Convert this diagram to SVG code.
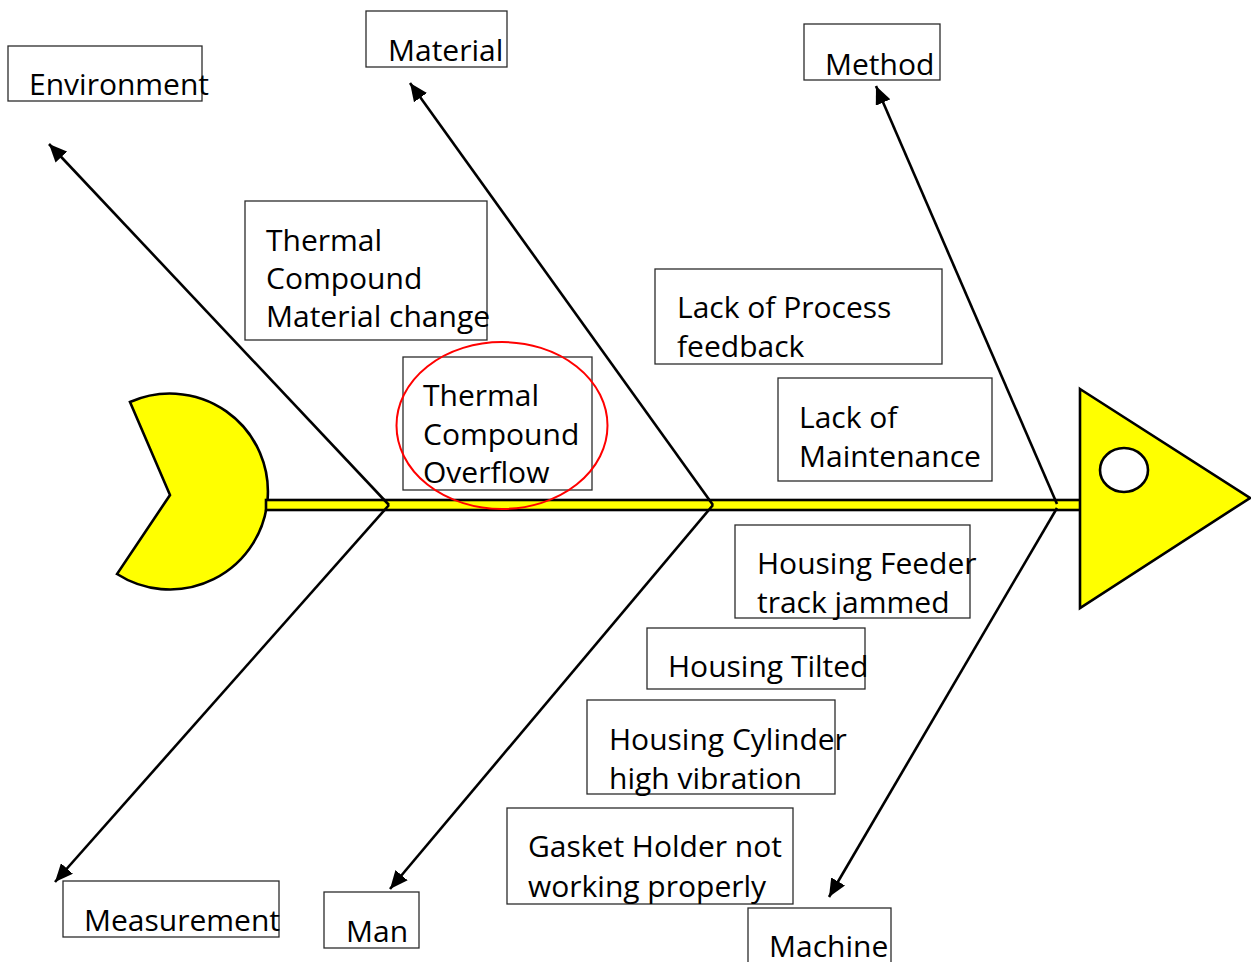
<svg xmlns="http://www.w3.org/2000/svg" width="1251" height="962" viewBox="0 0 1251 962">
  <style>
    .box { fill: #ffffff; stroke: #2b2b2b; stroke-width: 1.3; }
    .lbl { font-family: "Open Sans", "Noto Sans", "Liberation Sans", sans-serif; font-size: 30px; fill: #000000; }
    .bone { stroke: #000000; stroke-width: 2.6; fill: none; marker-end: url(#arrow); }
    .body { fill: #ffff00; stroke: #000000; stroke-width: 2.6; stroke-linejoin: miter; }
  </style>
  <defs>
    <marker id="arrow" markerUnits="userSpaceOnUse" markerWidth="20" markerHeight="16" refX="18" refY="8" orient="auto">
      <path d="M0,0 L18,8 L0,16 Z" fill="#000000"/>
    </marker>
  </defs>

  <rect width="1251" height="962" fill="#ffffff"/>

  <!-- fish skeleton: tail, spine, head -->
  <g id="fish">
    <path id="tail" class="body" d="M130,402 L170,495 L117,574 A98,98 0 1 0 130,402 Z"/>
    <rect id="spine" x="266" y="500" width="815" height="10" class="body" stroke-width="2.4"/>
    <path id="head" class="body" d="M1080,389 L1250,498 L1080,608 Z"/>
    <ellipse id="eye" cx="1124" cy="470" rx="24" ry="22" fill="#ffffff" stroke="#000000" stroke-width="2.6"/>
  </g>

  <!-- bones from the spine out to the category labels -->
  <g id="connectors">
    <line class="bone" x1="389" y1="505" x2="49" y2="144"/>
    <line class="bone" x1="389" y1="505" x2="55" y2="882"/>
    <line class="bone" x1="713" y1="505" x2="410" y2="83"/>
    <line class="bone" x1="713" y1="505" x2="390" y2="889"/>
    <line class="bone" x1="1057" y1="504" x2="876" y2="86"/>
    <line class="bone" x1="1057" y1="508" x2="829" y2="897"/>
  </g>

  <!-- category labels -->
  <g id="environment">
    <rect class="box" x="8" y="46" width="194" height="55"/>
    <text class="lbl" x="29" y="95">Environment</text>
  </g>
  <g id="material">
    <rect class="box" x="366" y="11" width="141" height="56"/>
    <text class="lbl" x="388" y="61">Material</text>
  </g>
  <g id="method">
    <rect class="box" x="804" y="24" width="136" height="56"/>
    <text class="lbl" x="825" y="75">Method</text>
  </g>
  <g id="measurement">
    <rect class="box" x="63" y="881" width="216" height="56"/>
    <text class="lbl" x="84" y="931">Measurement</text>
  </g>
  <g id="man">
    <rect class="box" x="324" y="892" width="95" height="56"/>
    <text class="lbl" x="346" y="942">Man</text>
  </g>
  <g id="machine">
    <rect class="box" x="748" y="908" width="143" height="60"/>
    <text class="lbl" x="769" y="957">Machine</text>
  </g>

  <!-- causes -->
  <g id="cause-material-change">
    <rect class="box" x="245" y="201" width="242" height="139"/>
    <text class="lbl" x="266" y="251">Thermal</text>
    <text class="lbl" x="266" y="289">Compound</text>
    <text class="lbl" x="266" y="327">Material change</text>
  </g>
  <g id="cause-overflow">
    <rect class="box" x="403" y="357" width="189" height="133"/>
    <text class="lbl" x="423" y="406">Thermal</text>
    <text class="lbl" x="423" y="445">Compound</text>
    <text class="lbl" x="423" y="483">Overflow</text>
    <ellipse cx="502" cy="425.5" rx="105.5" ry="83.5" fill="none" stroke="#ff0000" stroke-width="2"/>
  </g>
  <g id="cause-process-feedback">
    <rect class="box" x="655" y="269" width="287" height="95"/>
    <text class="lbl" x="677" y="318">Lack of Process</text>
    <text class="lbl" x="677" y="357">feedback</text>
  </g>
  <g id="cause-maintenance">
    <rect class="box" x="778" y="378" width="214" height="103"/>
    <text class="lbl" x="799" y="428">Lack of</text>
    <text class="lbl" x="799" y="467">Maintenance</text>
  </g>
  <g id="cause-feeder-jammed">
    <rect class="box" x="735" y="525" width="235" height="93"/>
    <text class="lbl" x="757" y="574">Housing Feeder</text>
    <text class="lbl" x="757" y="613">track jammed</text>
  </g>
  <g id="cause-housing-tilted">
    <rect class="box" x="647" y="628" width="218" height="61"/>
    <text class="lbl" x="668" y="677">Housing Tilted</text>
  </g>
  <g id="cause-cylinder-vibration">
    <rect class="box" x="587" y="700" width="248" height="94"/>
    <text class="lbl" x="609" y="750">Housing Cylinder</text>
    <text class="lbl" x="609" y="789">high vibration</text>
  </g>
  <g id="cause-gasket-holder">
    <rect class="box" x="507" y="808" width="286" height="96"/>
    <text class="lbl" x="528" y="857">Gasket Holder not</text>
    <text class="lbl" x="528" y="897">working properly</text>
  </g>
</svg>
